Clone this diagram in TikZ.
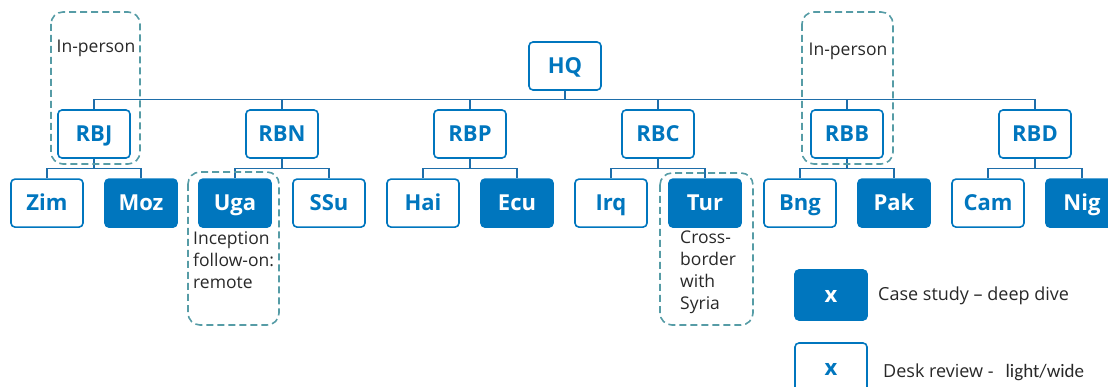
\documentclass[tikz,border=0pt]{standalone}
\usepackage{fontspec}
\setmainfont{Open Sans}
\newfontfamily\calibri{Carlito}
\usepackage{xcolor}
\usepackage{tikz}
\usetikzlibrary{positioning}
\definecolor{orgblue}{RGB}{0,118,190}
\definecolor{linkblue}{RGB}{30,110,170}
\definecolor{grpteal}{RGB}{86,156,166}
\definecolor{notegray}{RGB}{40,40,40}

\begin{document}
\begin{tikzpicture}[x=1pt, y=-1pt,
    unit/.style={draw=orgblue, line width=1.6pt, rounded corners=4pt, fill=white, text=orgblue, font=\fontsize{22}{26}\selectfont\bfseries, minimum width=72pt, minimum height=48pt, inner sep=0pt, text height=15.7pt, text depth=0pt},
    deep/.style={unit, fill=orgblue, text=white},
    conn/.style={draw=linkblue, line width=1.3pt},
    grp/.style={draw=grpteal, line width=1.6pt, dash pattern=on 7pt off 4pt, rounded corners=12pt},
    note/.style={font=\fontsize{17.5}{22}\selectfont, text=notegray, align=left, inner sep=0pt}
  ]
    \useasboundingbox (0,0) rectangle (1108,387);
    % head office and regional bureaux
    \node[unit] (hq) at (565,66) {HQ};
    \node[unit] (rbj) at (94,134) {RBJ};
    \node[unit] (rbn) at (282,134) {RBN};
    \node[unit] (rbp) at (470,134) {RBP};
    \node[unit] (rbc) at (658,134) {RBC};
    \node[unit] (rbb) at (847,134) {RBB};
    \node[unit] (rbd) at (1035,134) {RBD};
    % countries
    \node[unit, below=19.5pt of rbj, xshift=-47pt] (zim) {Zim};
    \node[deep, below=19.5pt of rbj, xshift=47pt] (moz) {Moz};
    \node[deep, below=19.5pt of rbn, xshift=-47pt] (uga) {Uga};
    \node[unit, below=19.5pt of rbn, xshift=47pt] (ssu) {SSu};
    \node[unit, below=19.5pt of rbp, xshift=-47pt] (hai) {Hai};
    \node[deep, below=19.5pt of rbp, xshift=47pt] (ecu) {Ecu};
    \node[unit, below=19.5pt of rbc, xshift=-47pt] (irq) {Irq};
    \node[deep, below=19.5pt of rbc, xshift=47pt] (tur) {Tur};
    \node[unit, below=19.5pt of rbb, xshift=-47pt] (bng) {Bng};
    \node[deep, below=19.5pt of rbb, xshift=47pt] (pak) {Pak};
    \node[unit, below=19.5pt of rbd, xshift=-47pt] (cam) {Cam};
    \node[deep, below=19.5pt of rbd, xshift=47pt] (nig) {Nig};
    % tree lines
    \draw[conn] (hq.south) -- ++(0,9.5);
    \draw[conn] (rbj.north) -- ++(0,-9.5) -| (rbd.north);
    \draw[conn] (rbn.north) -- ++(0,-9.5);
    \draw[conn] (rbp.north) -- ++(0,-9.5);
    \draw[conn] (rbc.north) -- ++(0,-9.5);
    \draw[conn] (rbb.north) -- ++(0,-9.5);
    \draw[conn] (rbj.south) -- ++(0,10);
    \draw[conn] (zim.north) -- ++(0,-10) -| (moz.north);
    \draw[conn] (rbn.south) -- ++(0,10);
    \draw[conn] (uga.north) -- ++(0,-10) -| (ssu.north);
    \draw[conn] (rbp.south) -- ++(0,10);
    \draw[conn] (hai.north) -- ++(0,-10) -| (ecu.north);
    \draw[conn] (rbc.south) -- ++(0,10);
    \draw[conn] (irq.north) -- ++(0,-10) -| (tur.north);
    \draw[conn] (rbb.south) -- ++(0,10);
    \draw[conn] (bng.north) -- ++(0,-10) -| (pak.north);
    \draw[conn] (rbd.south) -- ++(0,10);
    \draw[conn] (cam.north) -- ++(0,-10) -| (nig.north);
    % mission groups
    \node[note] (ipj) at (96,48) {In-person};
    \node[note] (ipb) at (848,51) {In-person};
    \node[note, anchor=north west] (ugan) at (193,231) {Inception\\follow-on:\\remote};
    \node[note, anchor=north west] (turn) at (680,231) {Cross-\\border\\with\\Syria};
    \draw[grp] (51,12) rectangle (140,164);
    \draw[grp] (802,12) rectangle (893,164);
    \draw[grp] (188,172) rectangle (279,325);
    \draw[grp] (660,173) rectangle (753,325);
    % key
    \node[deep, minimum height=50pt] (keydeep) at (831,295) {x};
    \node[unit, minimum height=50pt] (keydesk) at (831,368) {x};
    \node[note, anchor=west, font=\fontsize{18}{22}\selectfont] (keydeeplbl) at (878,296) {Case study – deep dive};
    \node[note, anchor=west, font=\fontsize{18}{22}\selectfont] (keydesklbl) at (883,372) {Desk review -\hspace{12pt}{\calibri\fontsize{19}{22}\selectfont light/wide}};
  \end{tikzpicture}
\end{document}
